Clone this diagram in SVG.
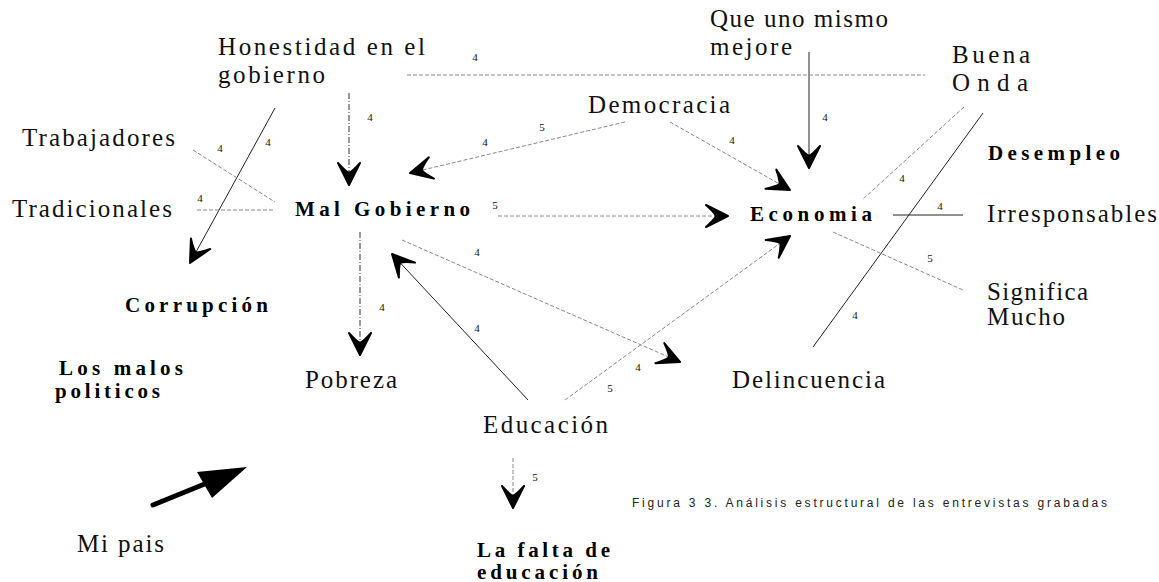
<svg xmlns="http://www.w3.org/2000/svg" width="1159" height="582" viewBox="0 0 1159 582">
<style>
.t{font-family:"Liberation Serif","Times New Roman",serif;font-size:25px;fill:#111}
.b{font-family:"Liberation Serif","Times New Roman",serif;font-size:21px;font-weight:bold;fill:#000}
.n{font-family:"Liberation Serif","Times New Roman",serif;font-size:11px;fill:#111;text-anchor:middle}
.cap{font-family:"Liberation Sans",Arial,sans-serif;font-size:12px;fill:#222}
.g{stroke:#888;stroke-width:1;stroke-dasharray:4 2;fill:none}
.k{stroke:#222;stroke-width:1;fill:none}
.kd{stroke:#333;stroke-width:1;stroke-dasharray:6 2 1 2;fill:none}
</style>
<defs>
<marker id="ah" markerUnits="userSpaceOnUse" orient="auto" overflow="visible" viewBox="-26 -13 28 26" refX="0" refY="0" markerWidth="28" markerHeight="26">
<path d="M0,0 L-22,-11 Q-14,-4 -12,0 Q-14,4 -22,11 Z" fill="#000" stroke="#000" stroke-width="2" stroke-linejoin="round"/>
</marker>
</defs>
<rect width="1159" height="582" fill="#fff"/>
<g id="connectors">
<line class="kd" x1="349" y1="93" x2="349" y2="185" marker-end="url(#ah)"/>
<line class="k" x1="275" y1="108" x2="190" y2="263" marker-end="url(#ah)"/>
<line class="k" x1="809" y1="52" x2="809" y2="168" marker-end="url(#ah)"/>
<line class="g" x1="625" y1="122" x2="410" y2="173" marker-end="url(#ah)"/>
<line class="g" x1="670" y1="122" x2="790" y2="190" marker-end="url(#ah)"/>
<line class="g" x1="498" y1="216" x2="728" y2="216" marker-end="url(#ah)"/>
<line class="kd" x1="360" y1="232" x2="360" y2="355" marker-end="url(#ah)"/>
<line class="g" x1="402" y1="240" x2="680" y2="362" marker-end="url(#ah)"/>
<line class="k" x1="528" y1="400" x2="392" y2="254" stroke="#444" marker-end="url(#ah)"/>
<line class="g" x1="565" y1="400" x2="790" y2="236" marker-end="url(#ah)"/>
<line class="g" x1="513" y1="458" x2="513" y2="508" marker-end="url(#ah)"/>
<line class="g" x1="407" y1="75" x2="925" y2="75"/>
<line class="g" x1="193" y1="150" x2="275" y2="202"/>
<line class="g" x1="197" y1="210" x2="275" y2="210"/>
<line class="g" x1="964" y1="107" x2="862" y2="200"/>
<line class="k" x1="983" y1="113" x2="813" y2="347"/>
<line class="k" x1="893" y1="215" x2="963" y2="215" stroke="#555"/>
<line class="g" x1="833" y1="232" x2="963" y2="290"/>
<line x1="153" y1="505" x2="212" y2="481" stroke="#000" stroke-width="5" stroke-linecap="round"/>
<polygon points="197,472 247,467 212,498" fill="#000"/>
</g>
<g id="labels">
<text class="n" x="475" y="61">4</text>
<text class="n" x="370" y="121">4</text>
<text class="n" x="268" y="146">4</text>
<text class="n" x="220" y="152">4</text>
<text class="n" x="200" y="202">4</text>
<text class="n" x="542" y="131">5</text>
<text class="n" x="485" y="146">4</text>
<text class="n" x="732" y="144">4</text>
<text class="n" x="825" y="121">4</text>
<text class="n" x="902" y="182">4</text>
<text class="n" x="495" y="209">5</text>
<text class="n" x="940" y="210">4</text>
<text class="n" x="477" y="256">4</text>
<text class="n" x="930" y="262">5</text>
<text class="n" x="382" y="311">4</text>
<text class="n" x="855" y="319">4</text>
<text class="n" x="477" y="332">4</text>
<text class="n" x="638" y="371">4</text>
<text class="n" x="610" y="392">5</text>
<text class="n" x="535" y="481">5</text>
</g>
<g id="honestidad"><text class="t" x="218" y="55" textLength="207" lengthAdjust="spacing">Honestidad en el</text><text class="t" x="218" y="83" textLength="107" lengthAdjust="spacing">gobierno</text></g>
<g id="que-uno-mismo"><text class="t" x="710" y="27" textLength="178" lengthAdjust="spacing">Que uno mismo</text><text class="t" x="710" y="55" textLength="82" lengthAdjust="spacing">mejore</text></g>
<g id="buena-onda"><text class="t" x="952" y="63" textLength="78" lengthAdjust="spacing">Buena</text><text class="t" x="952" y="91" textLength="76" lengthAdjust="spacing">Onda</text></g>
<g id="democracia"><text class="t" x="588" y="113" textLength="142" lengthAdjust="spacing">Democracia</text></g>
<g id="trabajadores"><text class="t" x="22" y="146" textLength="153" lengthAdjust="spacing">Trabajadores</text></g>
<g id="desempleo"><text class="b" x="988" y="160" font-size="19" textLength="132" lengthAdjust="spacing">Desempleo</text></g>
<g id="tradicionales"><text class="t" x="12" y="217" textLength="160" lengthAdjust="spacing">Tradicionales</text></g>
<g id="mal-gobierno"><text class="b" x="295" y="216" textLength="175" lengthAdjust="spacing">Mal Gobierno</text></g>
<g id="economia"><text class="b" x="750" y="221" textLength="122" lengthAdjust="spacing">Economia</text></g>
<g id="irresponsables"><text class="t" x="987" y="222" textLength="170" lengthAdjust="spacing">Irresponsables</text></g>
<g id="corrupcion"><text class="b" x="125" y="312" textLength="143" lengthAdjust="spacing">Corrupción</text></g>
<g id="significa-mucho"><text class="t" x="987" y="300" textLength="101" lengthAdjust="spacing">Significa</text><text class="t" x="987" y="325" textLength="78" lengthAdjust="spacing">Mucho</text></g>
<g id="los-malos-politicos"><text class="b" x="59" y="375" textLength="124" lengthAdjust="spacing">Los malos</text><text class="b" x="55" y="398" textLength="105" lengthAdjust="spacing">politicos</text></g>
<g id="pobreza"><text class="t" x="305" y="388" textLength="92" lengthAdjust="spacing">Pobreza</text></g>
<g id="delincuencia"><text class="t" x="732" y="388" textLength="153" lengthAdjust="spacing">Delincuencia</text></g>
<g id="educacion"><text class="t" x="483" y="433" textLength="125" lengthAdjust="spacing">Educación</text></g>
<g id="la-falta-de-educacion"><text class="b" x="477" y="557" textLength="133" lengthAdjust="spacing">La falta de</text><text class="b" x="477" y="579" textLength="121" lengthAdjust="spacing">educación</text></g>
<g id="mi-pais"><text class="t" x="77" y="552" textLength="87" lengthAdjust="spacing">Mi pais</text></g>
<g id="caption"><text class="cap" x="632" y="507" textLength="475" lengthAdjust="spacing">Figura 3 3. Análisis estructural de las entrevistas grabadas</text></g>
</svg>
